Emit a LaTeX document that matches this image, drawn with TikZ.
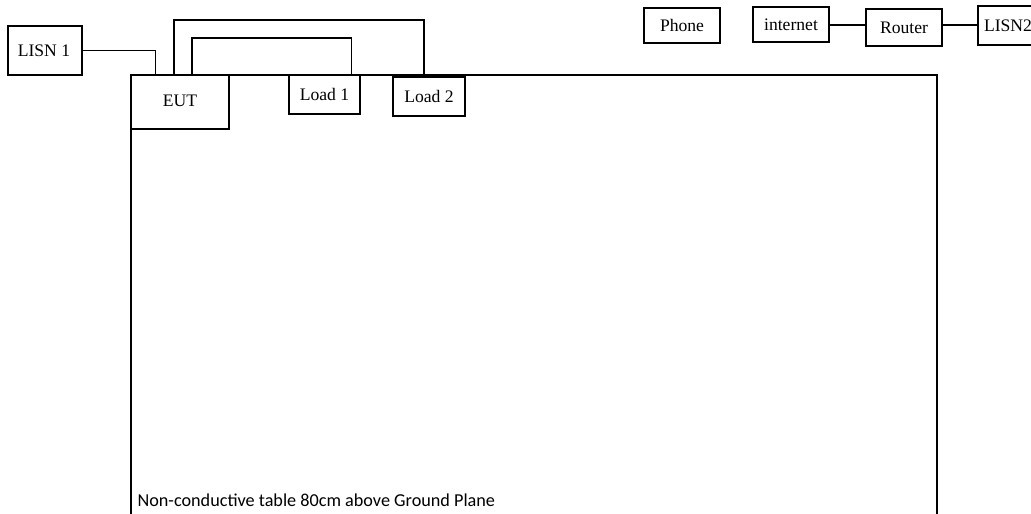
\documentclass[tikz,border=0pt]{standalone}
\usepackage{fontspec}
\setmainfont{Liberation Serif}
\newfontfamily\calibri{Carlito}
\begin{document}
\begin{tikzpicture}[x=1pt,y=-1pt,line width=1.1pt,
  box/.style={draw,line width=1.1pt,inner sep=0pt,font=\fontsize{17.6}{20}\selectfont},
  lbl/.style={font=\fontsize{17.6}{20}\selectfont},
  wire/.style={draw,line width=1.1pt}]
\useasboundingbox (0,0) rectangle (1031,514);
% table
\draw[line width=1.2pt] (131,514) -- (131,75) -- (937,75) -- (937,514);
\node[anchor=west, font=\calibri\fontsize{18.2}{20}\selectfont, inner sep=0pt] (tbl) at (137,500) {Non-conductive table 80cm above Ground Plane};
% boxes
\node[box, fill=white, minimum width=74pt, minimum height=49pt] (lisn1) at (45,50.5) {};
\node[lbl] (lisn1t) at (44,50.5) {LISN 1};
\node[box, fill=white, minimum width=98pt, minimum height=54pt] (eut) at (180,102) {};
\node[lbl] (eutt) at (180,101) {EUT};
\node[box, fill=white, minimum width=71pt, minimum height=39pt] (load1) at (324.5,94.5) {};
\node[lbl] (load1t) at (324.5,94) {Load 1};
\node[box, fill=white, minimum width=72pt, minimum height=39pt] (load2) at (429,96.5) {};
\node[lbl] (load2t) at (429,96) {Load 2};
\node[box, minimum width=76pt, minimum height=35pt] (phone) at (682,25.5) {Phone};
\node[box, minimum width=76pt, minimum height=35pt] (inet) at (791,24.5) {internet};
\node[box, minimum width=76pt, minimum height=37pt] (router) at (904,27.5) {Router};
\node[box, minimum width=76pt, minimum height=39pt, text width=70pt, align=left] (lisn2) at (1016,25.5) {\hspace*{3pt}LISN2};
% connectors
\coordinate (e1) at (155.5,75);
\coordinate (e2) at (174,75);
\coordinate (e3) at (192,75);
\coordinate (l1) at (351.5,75);
\coordinate (l2) at (424,77);
\draw[wire] (lisn1.east) -| (e1);
\draw[wire] (e2) -- (174,20) -- (424,20) -- (l2);
\draw[wire] (e3) -- (192,38) -- (351.5,38) -- (l1);
\draw[wire] (inet.east |- 0,25) -- (router.west |- 0,25);
\draw[wire] (router.east |- 0,25) -- (lisn2.west |- 0,25);
\end{tikzpicture}
\end{document}
